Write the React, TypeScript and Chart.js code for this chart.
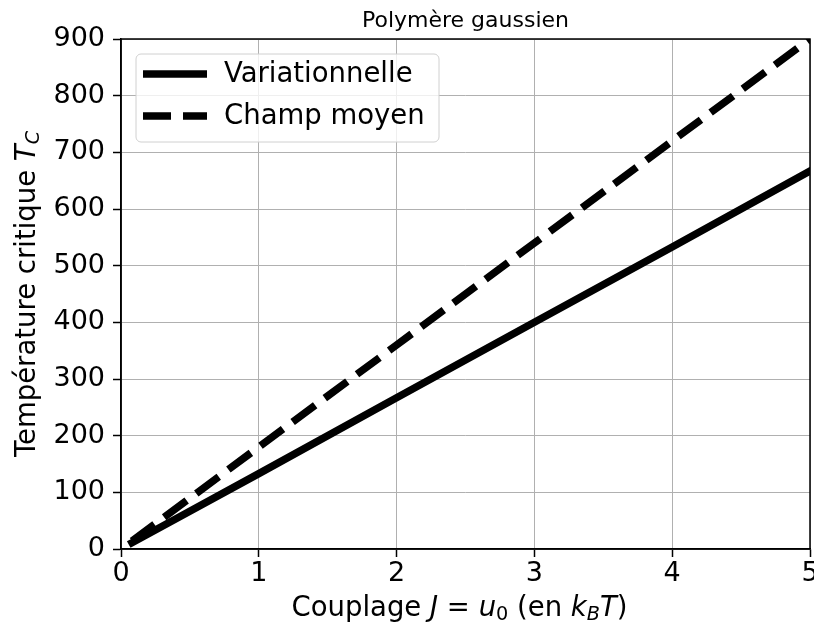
import React, { useEffect, useRef } from "react";
import { Chart, registerables } from "chart.js";

Chart.register(...registerables);

const xValues = [0.08, 1, 2, 3, 4, 5];
const variationnelle = [11, 133, 267, 400, 533, 667];
const champMoyen = [14, 180, 360, 540, 720, 900];
const seriesLabels = ["Variationnelle", "Champ moyen"];
const chartTitle = "Polymère gaussien";

const FONT = "'DejaVu Sans', sans-serif";
const W = 814;
const H = 628;

type Seg = { t: string; it?: boolean; sub?: boolean };

function segWidth(ctx: CanvasRenderingContext2D, s: Seg, size: number) {
  const sz = s.sub ? size * 0.7 : size;
  ctx.font = `${s.it ? "italic " : ""}${sz}px ${FONT}`;
  return ctx.measureText(s.t).width;
}

function drawRich(ctx: CanvasRenderingContext2D, segs: Seg[], cx: number, cy: number, size: number) {
  let total = 0;
  for (const s of segs) total += segWidth(ctx, s, size);
  let x = cx - total / 2;
  ctx.textBaseline = "middle";
  ctx.textAlign = "left";
  ctx.fillStyle = "#000";
  for (const s of segs) {
    const w = segWidth(ctx, s, size);
    ctx.fillText(s.t, x, s.sub ? cy + size * 0.22 : cy);
    x += w;
  }
}

const xTitle: Seg[] = [
  { t: "Couplage " },
  { t: "J", it: true },
  { t: " = " },
  { t: "u", it: true },
  { t: "0", sub: true },
  { t: " (en " },
  { t: "k", it: true },
  { t: "B", it: true, sub: true },
  { t: "T", it: true },
  { t: ")" },
];
const yTitle: Seg[] = [
  { t: "Température critique " },
  { t: "T", it: true },
  { t: "C", it: true, sub: true },
];

const decorPlugin = {
  id: "decor",
  afterDatasetsDraw(chart: any) {
    const { ctx, chartArea: a } = chart;
    ctx.save();
    // frame
    ctx.strokeStyle = "#000";
    ctx.lineWidth = 1.5;
    ctx.strokeRect(a.left, a.top, a.right - a.left, a.bottom - a.top);
    // legend
    const bx = 136, by = 54, bw = 303, bh = 88, r = 5;
    ctx.beginPath();
    ctx.moveTo(bx + r, by);
    ctx.arcTo(bx + bw, by, bx + bw, by + bh, r);
    ctx.arcTo(bx + bw, by + bh, bx, by + bh, r);
    ctx.arcTo(bx, by + bh, bx, by, r);
    ctx.arcTo(bx, by, bx + bw, by, r);
    ctx.closePath();
    ctx.fillStyle = "rgba(255,255,255,0.8)";
    ctx.fill();
    ctx.strokeStyle = "#d0d0d0";
    ctx.lineWidth = 1;
    ctx.stroke();
    const rows = [74, 116];
    chart.data.datasets.forEach((ds: any, i: number) => {
      const y = rows[i];
      ctx.beginPath();
      ctx.strokeStyle = ds.borderColor;
      ctx.lineWidth = ds.borderWidth;
      ctx.lineCap = "butt";
      ctx.setLineDash(ds.borderDash || []);
      ctx.moveTo(143, y);
      ctx.lineTo(207, y);
      ctx.stroke();
      ctx.setLineDash([]);
      ctx.fillStyle = "#000";
      ctx.font = `27.5px ${FONT}`;
      ctx.textBaseline = "middle";
      ctx.textAlign = "left";
      ctx.fillText(ds.label, 224, y + 1);
    });
    ctx.restore();
  },
  afterDraw(chart: any) {
    const { ctx, chartArea: a } = chart;
    ctx.save();
    // title
    ctx.fillStyle = "#000";
    ctx.font = `22px ${FONT}`;
    ctx.textAlign = "center";
    ctx.textBaseline = "alphabetic";
    ctx.fillText(chartTitle, (a.left + a.right) / 2, 27);
    // x title
    drawRich(ctx, xTitle, (a.left + a.right) / 2 - 6, 609, 27.5);
    // y title
    ctx.translate(28, (a.top + a.bottom) / 2);
    ctx.rotate(-Math.PI / 2);
    drawRich(ctx, yTitle, 0, 0, 27.5);
    ctx.restore();
  },
};

export default function App() {
  const ref = useRef<HTMLCanvasElement>(null);
  useEffect(() => {
    document.body.style.margin = "0";
    const canvas = ref.current!;
    const chart = new Chart(canvas, {
      type: "scatter",
      data: {
        datasets: [
          {
            label: seriesLabels[0],
            data: xValues.map((x, i) => ({ x, y: variationnelle[i] })),
            showLine: true,
            borderColor: "#000",
            backgroundColor: "#000",
            borderWidth: 7.5,
            pointRadius: 0,
            borderCapStyle: "square",
          },
          {
            label: seriesLabels[1],
            data: xValues.map((x, i) => ({ x, y: champMoyen[i] })),
            showLine: true,
            borderColor: "#000",
            backgroundColor: "#000",
            borderWidth: 7.5,
            borderDash: [28, 12],
            pointRadius: 0,
            borderCapStyle: "butt",
          },
        ],
      },
      options: {
        responsive: false,
        animation: false,
        devicePixelRatio: 1,
        layout: { padding: { top: 39, right: 4, left: 0, bottom: 0 } },
        plugins: { legend: { display: false }, tooltip: { enabled: false }, title: { display: false } },
        scales: {
          x: {
            type: "linear",
            min: 0,
            max: 5,
            ticks: {
              stepSize: 1,
              color: "#000",
              font: { family: FONT, size: 27 },
              padding: 1,
              maxRotation: 0,
            },
            grid: { color: "#b0b0b0", lineWidth: 1, tickColor: "#000", tickLength: 8, tickWidth: 1.5 },
            border: { color: "#000", width: 1.5 },
            afterFit(scale: any) {
              scale.height = 79;
              scale.paddingLeft = 0;
              scale.paddingRight = 0;
            },
          },
          y: {
            type: "linear",
            min: 0,
            max: 900,
            ticks: {
              stepSize: 100,
              color: "#000",
              font: { family: FONT, size: 27 },
              padding: 8,
            },
            grid: { color: "#b0b0b0", lineWidth: 1, tickColor: "#000", tickLength: 8, tickWidth: 1.5 },
            border: { color: "#000", width: 1.5 },
            afterFit(scale: any) {
              scale.width = 121;
              scale.paddingTop = 0;
              scale.paddingBottom = 0;
            },
          },
        },
      },
      plugins: [decorPlugin],
    });
    return () => chart.destroy();
  }, []);
  return <canvas ref={ref} width={W} height={H} style={{ display: "block" }} />;
}
